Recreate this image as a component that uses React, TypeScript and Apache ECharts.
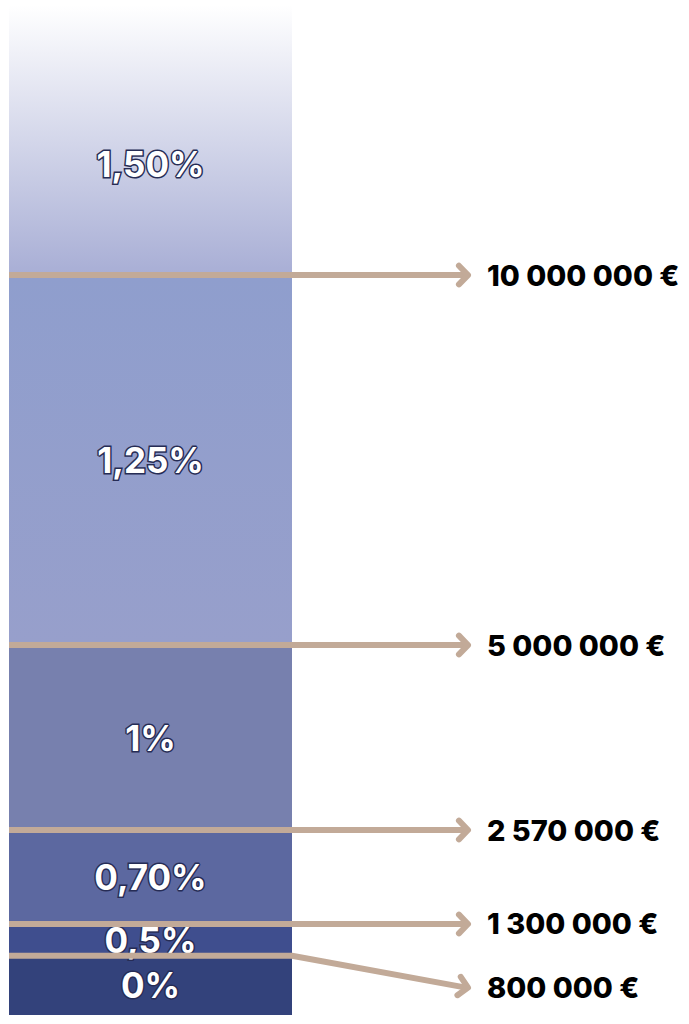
import React, { useEffect, useRef } from "react";
import * as echarts from "echarts";

// bands, bottom to top (millions of €)
const rates = ["0%", "0,5%", "0,70%", "1%", "1,25%", "1,50%"];
const bandEdges = [0, 0.8, 1.23, 2.5, 5, 10, 13.65];
const rateLabelAt = [0.4, 1.015, 1.87, 3.75, 7.5, 11.5];
const bandColors: any[] = [
  "#33427b",
  "#3f4e8e",
  "#5c68a0",
  "#7780ae",
  ["#8f9ecd", "#979fcb"],
  ["#ffffff", "#a8aed5"],
];

// thresholds with their arrows
const thresholds = [0.8, 1.23, 2.5, 5, 10];
const arrowTargets = [0.37, 1.23, 2.5, 5, 10];
const thresholdLabels = ["800 000 €", "1 300 000 €", "2 570 000 €", "5 000 000 €", "10 000 000 €"];

const ARROW_OUT = 176;
const ARROW_COLOR = "#c2aa98";

const App: React.FC = () => {
  const chartRef = useRef<HTMLDivElement>(null);

  useEffect(() => {
    document.body.style.margin = "0";
    if (!chartRef.current) return;
    const myChart = echarts.init(chartRef.current, null, { renderer: "svg" });

    const bandData = rates.map((r, i) => [bandEdges[i], bandEdges[i + 1], rateLabelAt[i], i]);
    const arrowData = thresholds.map((t, i) => [t, arrowTargets[i], i]);

    const option: echarts.EChartsOption = {
      animation: false,
      grid: { left: 9, right: 397, top: 5, bottom: 9 },
      xAxis: { type: "value", min: 0, max: 1, show: false },
      yAxis: { type: "value", min: 0, max: bandEdges[bandEdges.length - 1], show: false },
      series: [
        {
          type: "custom",
          data: bandData,
          renderItem: (params: any, api: any) => {
            const lo = api.value(0);
            const hi = api.value(1);
            const mid = api.value(2);
            const idx = api.value(3);
            const p0 = api.coord([0, hi]);
            const p1 = api.coord([1, lo]);
            const c = bandColors[idx];
            const fill = Array.isArray(c)
              ? new echarts.graphic.LinearGradient(0, 0, 0, 1, [
                  { offset: 0, color: c[0] },
                  { offset: 1, color: c[1] },
                ])
              : c;
            const pm = api.coord([0.5, mid]);
            return {
              type: "group",
              children: [
                {
                  type: "rect",
                  shape: { x: p0[0], y: p0[1], width: p1[0] - p0[0], height: p1[1] - p0[1] },
                  style: { fill },
                },
                {
                  type: "text",
                  z2: 10,
                  style: {
                    text: rates[idx],
                    x: pm[0],
                    y: pm[1],
                    align: "center",
                    verticalAlign: "middle",
                    fill: "#ffffff",
                    stroke: "#262c55",
                    lineWidth: 3,
                    strokeFirst: true,
                    fontSize: 35,
                    fontWeight: "bold",
                    fontFamily: "Inter",
                  },
                },
              ],
            };
          },
        },
        {
          type: "custom",
          data: arrowData,
          z: 5,
          renderItem: (params: any, api: any) => {
            const from = api.value(0);
            const to = api.value(1);
            const idx = api.value(2);
            const start = api.coord([0, from]);
            const edge = api.coord([1, from]);
            const tip = [edge[0] + ARROW_OUT, api.coord([1, to])[1]];
            const ang = Math.atan2(tip[1] - edge[1], tip[0] - edge[0]);
            const head = (a: number) => [tip[0] - 13 * Math.cos(ang + a), tip[1] - 13 * Math.sin(ang + a)];
            return {
              type: "group",
              children: [
                {
                  type: "polyline",
                  shape: { points: [start, edge, [tip[0] - 2, tip[1]]] },
                  style: { stroke: ARROW_COLOR, lineWidth: 6, fill: "none", lineJoin: "round" },
                },
                {
                  type: "polyline",
                  shape: { points: [head(0.8), tip, head(-0.8)] },
                  style: { stroke: ARROW_COLOR, lineWidth: 6, fill: "none", lineCap: "round", lineJoin: "round" },
                },
                {
                  type: "text",
                  style: {
                    text: thresholdLabels[idx],
                    x: tip[0] + 19,
                    y: tip[1],
                    align: "left",
                    verticalAlign: "middle",
                    fill: "#000000",
                    fontSize: 29,
                    fontWeight: 800,
                    fontFamily: "Inter",
                  },
                },
              ],
            };
          },
        },
      ],
    };

    myChart.setOption(option);

    // Clean up on unmount
    return () => {
      myChart.dispose();
    };
  }, []);

  return <div ref={chartRef} style={{ width: "689px", height: "1024px" }} />;
};

export default App;
